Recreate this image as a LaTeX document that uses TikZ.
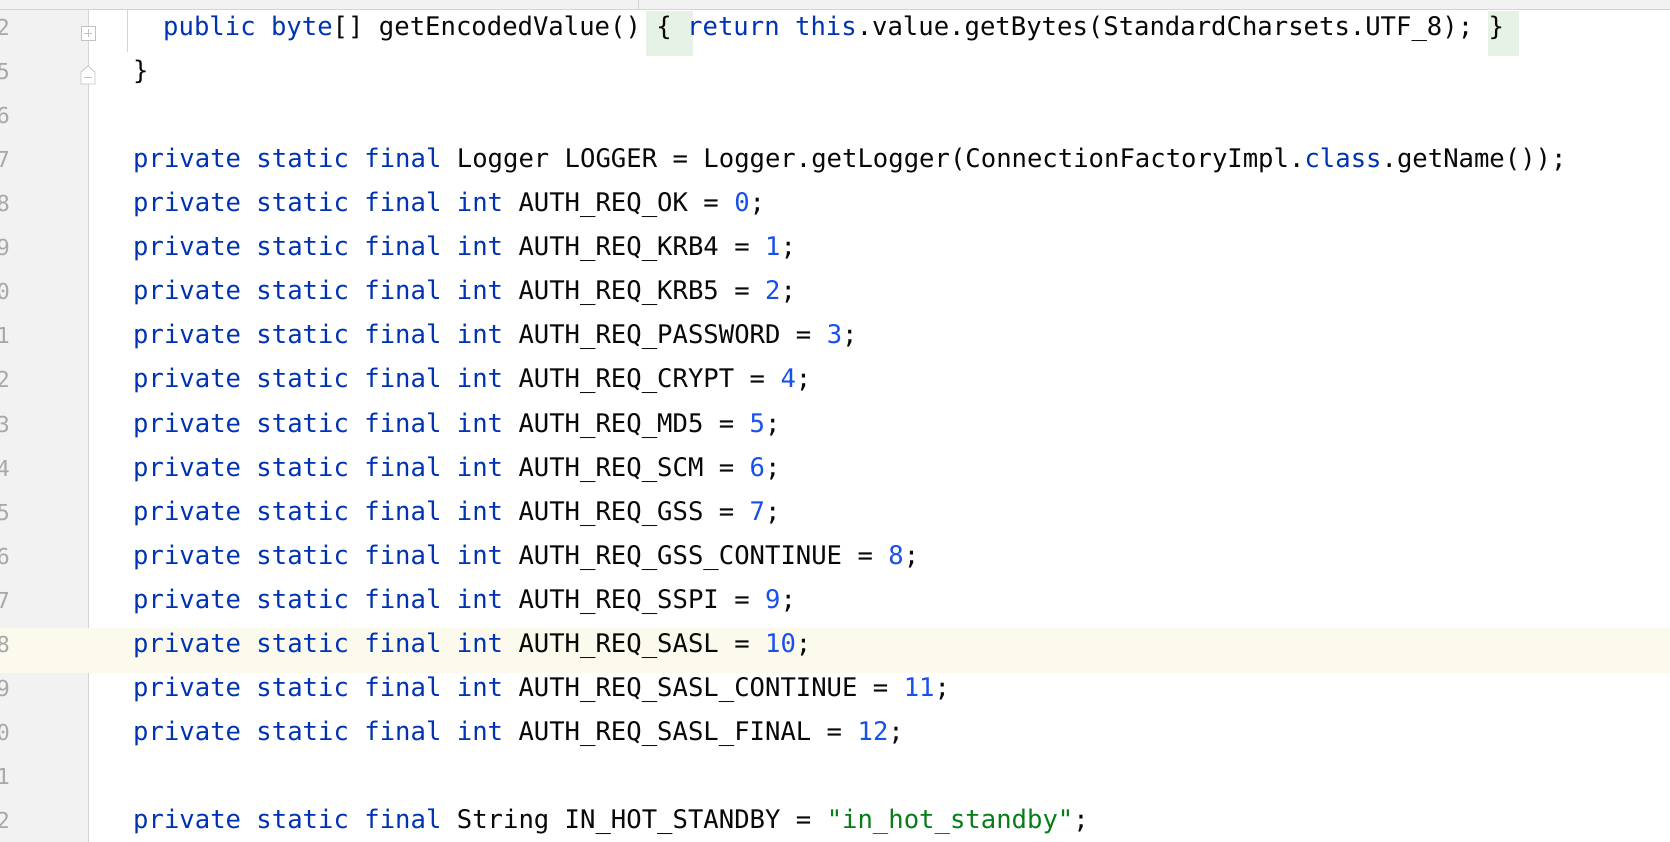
\documentclass[tikz,border=0pt]{standalone}
\usepackage{fontspec}
\setmonofont{DejaVu Sans Mono}
\definecolor{kw}{HTML}{0033B3}
\definecolor{nmc}{HTML}{1750EB}
\definecolor{stc}{HTML}{067D17}
\definecolor{txt}{HTML}{080808}
\definecolor{gut}{HTML}{F2F2F2}
\definecolor{lno}{HTML}{A8A8A8}
\definecolor{hl}{HTML}{FCFAED}
\definecolor{brc}{HTML}{E6F2E6}
\definecolor{edge}{HTML}{D4D4D4}
\newcommand\kwd[1]{\textcolor{kw}{#1}}
\newcommand\nmb[1]{\textcolor{nmc}{#1}}
\newcommand\strg[1]{\textcolor{stc}{#1}}
\newcommand\pv{\kwd{private static final} }
\begin{document}
\begin{tikzpicture}[x=1pt,y=-1pt,
  code/.style={anchor=mid west,inner sep=0pt,font=\ttfamily\fontsize{25.6}{30}\selectfont,text=txt},
  lnum/.style={anchor=mid east,inner sep=0pt,font=\ttfamily\fontsize{22}{26}\selectfont,text=lno}]
\useasboundingbox (0,0) rectangle (1670,842);
\clip (0,0) rectangle (1670,842);
\fill[white] (0,0) rectangle (1670,842);
% gutter
\fill[gut] (0,0) rectangle (88,842);
\draw[edge,line width=1pt] (88,10) -- (88,842);
% top strip
\fill[gut] (0,0) rectangle (1670,9);
\draw[edge,line width=1.5pt] (0,9.5) -- (1670,9.5);
\draw[edge,line width=1pt] (638,0) -- (638,9);
% highlighted line
\fill[hl] (0,628) rectangle (1670,673);
% indent guide
\draw[edge,line width=1pt] (127,10) -- (127,52);
% brace highlights
\fill[brc] (646,11) rectangle (693,56);
\fill[brc] (1488,11) rectangle (1519,56);
% fold icons
\draw[lno!70,line width=0.8pt,fill=white] (81,26) rectangle (95,40);
\draw[lno!70,line width=0.8pt] (84,33) -- (92,33) (88,29) -- (88,37);
\draw[lno!70,line width=0.8pt,fill=white] (81,84) -- (81,72) -- (88,66) -- (95,72) -- (95,84) -- cycle;
\draw[lno!70,line width=0.8pt] (84,77) -- (92,77);
% line numbers
\foreach \n/\y in {2/33,5/77.1,6/121.2,7/165.3,8/209.4,9/253.5,0/297.6,1/341.7,2/385.8,3/429.9,4/474,5/518.1,6/562.2,7/606.3,8/650.4,9/694.5,0/738.6,1/782.7,2/826.8}
  \node[lnum] (ln\y) at (10,\y) {\n};
% code
\node[code] (l0) at (163,33) {\kwd{public byte}[] getEncodedValue() \{ \kwd{return this}.value.getBytes(StandardCharsets.UTF\_8); \}};
\node[code] (l1) at (133,77.1) {\}};
\node[code] (l3) at (133,165.3) {\pv Logger LOGGER = Logger.getLogger(ConnectionFactoryImpl.\kwd{class}.getName());};
\node[code] (l4) at (133,209.4) {\pv\kwd{int} AUTH\_REQ\_OK = \nmb{0};};
\node[code] (l5) at (133,253.5) {\pv\kwd{int} AUTH\_REQ\_KRB4 = \nmb{1};};
\node[code] (l6) at (133,297.6) {\pv\kwd{int} AUTH\_REQ\_KRB5 = \nmb{2};};
\node[code] (l7) at (133,341.7) {\pv\kwd{int} AUTH\_REQ\_PASSWORD = \nmb{3};};
\node[code] (l8) at (133,385.8) {\pv\kwd{int} AUTH\_REQ\_CRYPT = \nmb{4};};
\node[code] (l9) at (133,429.9) {\pv\kwd{int} AUTH\_REQ\_MD5 = \nmb{5};};
\node[code] (l10) at (133,474) {\pv\kwd{int} AUTH\_REQ\_SCM = \nmb{6};};
\node[code] (l11) at (133,518.1) {\pv\kwd{int} AUTH\_REQ\_GSS = \nmb{7};};
\node[code] (l12) at (133,562.2) {\pv\kwd{int} AUTH\_REQ\_GSS\_CONTINUE = \nmb{8};};
\node[code] (l13) at (133,606.3) {\pv\kwd{int} AUTH\_REQ\_SSPI = \nmb{9};};
\node[code] (l14) at (133,650.4) {\pv\kwd{int} AUTH\_REQ\_SASL = \nmb{10};};
\node[code] (l15) at (133,694.5) {\pv\kwd{int} AUTH\_REQ\_SASL\_CONTINUE = \nmb{11};};
\node[code] (l16) at (133,738.6) {\pv\kwd{int} AUTH\_REQ\_SASL\_FINAL = \nmb{12};};
\node[code] (l18) at (133,826.8) {\pv String IN\_HOT\_STANDBY = \strg{"in\_hot\_standby"};};
\end{tikzpicture}
\end{document}
